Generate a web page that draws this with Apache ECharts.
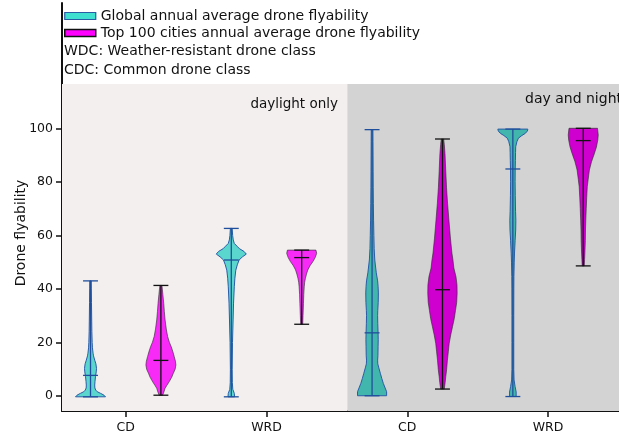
<!DOCTYPE html>
<html><head><meta charset="utf-8">
<script src="https://cdn.jsdelivr.net/npm/echarts@6/dist/echarts.min.js"></script>
<style>html,body{margin:0;padding:0;background:#fff}#c{width:619px;height:437px}</style>
</head><body><div id="c"></div>
<script>
// ---------------- data ----------------
const categories = ['CD', 'WRD', 'CD', 'WRD'];
const panelLabels = ['daylight only', 'day and night'];
const yTicks = [0, 20, 40, 60, 80, 100];
const seriesNames = ['Global annual average drone flyability', 'Top 100 cities annual average drone flyability'];
const classNotes = ['WDC: Weather-resistant drone class', 'CDC: Common drone class'];
const yAxisTitle = 'Drone flyability';

const globalMin = [-0.3, -0.3, 0.1, -0.2];
const globalMax = [43, 62.6, 99.5, 99.7];
const globalMean = [7.7, 50.8, 23.6, 84.8];
const top100Min = [0.3, 26.8, 2.6, 48.6];
const top100Max = [41.3, 54.5, 96, 100];
const top100Mean = [13.3, 51.7, 39.7, 95.4];

// density profiles: [value, relative density (max = 1)]
const globalCDDay = [[-0.3,1.0],[0.3,0.9],[1,0.67],[1.6,0.45],[2.2,0.35],[3,0.29],[4.1,0.28],[5.5,0.3],[7.2,0.33],[9,0.38],[10.3,0.4],[12,0.36],[13.4,0.28],[15,0.2],[16,0.17],[18,0.13],[20,0.11],[24,0.09],[28,0.08],[35,0.065],[40,0.055],[43,0.05]];
const globalWRDDay = [[-0.3,0.22],[1,0.2],[2.5,0.1],[5,0.07],[10,0.06],[20,0.08],[28.4,0.12],[34.7,0.15],[40.8,0.2],[44,0.24],[47,0.3],[49,0.4],[50.8,0.52],[52,0.75],[53,1.0],[54,0.85],[55,0.55],[55.8,0.41],[57,0.2],[58.3,0.13],[60,0.09],[62.6,0.06]];
const globalCDNight = [[0.1,0.97],[1.6,0.97],[3,0.87],[4.7,0.75],[6.5,0.65],[8.5,0.55],[10.5,0.45],[12,0.38],[13.4,0.37],[15,0.39],[18.4,0.4],[21,0.41],[23.6,0.4],[27,0.38],[30,0.37],[32,0.38],[35,0.41],[38.5,0.42],[41,0.4],[43,0.37],[46,0.28],[50.8,0.18],[55,0.14],[60,0.12],[65.7,0.1],[72,0.085],[78,0.075],[84,0.07],[90,0.065],[95,0.06],[99.5,0.055]];
const globalWRDNight = [[-0.2,0.22],[1.5,0.22],[3.5,0.15],[6,0.08],[10,0.06],[20,0.06],[30,0.06],[40,0.065],[44.6,0.07],[50,0.09],[53.4,0.11],[58,0.15],[62,0.19],[65.7,0.2],[69,0.18],[75,0.16],[80,0.15],[84.4,0.155],[88,0.17],[91,0.18],[93.1,0.19],[95,0.27],[96.3,0.37],[97.3,0.6],[98.1,0.83],[99,0.97],[99.7,1.0]];
const top100CDDay = [[0.3,0.12],[1.5,0.2],[2.9,0.28],[4,0.4],[5.3,0.55],[7,0.72],[8.5,0.83],[10,0.95],[11.6,1.0],[13,0.97],[14.7,0.89],[16.5,0.8],[18.4,0.69],[20,0.57],[22.2,0.45],[25,0.36],[28.4,0.28],[31.5,0.23],[34.6,0.19],[38,0.13],[41.3,0.07]];
const top100WRDDay = [[26.8,0.07],[30,0.09],[34.6,0.12],[38,0.14],[40.8,0.17],[42.5,0.2],[44,0.25],[45.5,0.32],[47.1,0.41],[48.7,0.56],[50.2,0.75],[51.7,0.9],[53.3,1.0],[54.5,0.95]];
const top100CDNight = [[2.6,0.12],[3,0.13],[5,0.18],[7.2,0.22],[10,0.28],[13.4,0.33],[16.5,0.39],[19.7,0.45],[22.8,0.55],[25.9,0.67],[29,0.79],[32,0.87],[35,0.95],[38.4,0.98],[41.5,0.97],[44.6,0.9],[47.8,0.76],[50.8,0.7],[53.4,0.63],[59,0.53],[65.7,0.43],[72,0.34],[78,0.27],[84,0.22],[90.6,0.17],[94,0.12],[96,0.08]];
const top100WRDNight = [[48.6,0.07],[51,0.09],[53.4,0.11],[58,0.14],[62,0.15],[65.7,0.17],[70,0.2],[74,0.23],[78.2,0.27],[81,0.33],[84.4,0.41],[87.5,0.55],[90.7,0.75],[93,0.88],[95.6,0.97],[97.5,1.0],[100,0.95]];

const globalShapes = [globalCDDay, globalWRDDay, globalCDNight, globalWRDNight];
const top100Shapes = [top100CDDay, top100WRDDay, top100CDNight, top100WRDNight];

// ---------------- layout / style ----------------
const X_MIN = -0.4525, X_MAX = 3.504, SPLIT = 1.574;
const Y_MIN = -5.6, Y_MAX = 146.8, PANEL_TOP = 116.5;
const HALF = 0.1065, CAP = 0.053, OFFSET = 0.25;

const globalStyle = { fill: ['#5ad6cf', '#40b6ac'], edge: '#2a5ca6', line: '#1f4f9c' };
const top100Style = { fill: ['#f72af7', '#cf00cf'], edge: 'rgba(40,40,40,0.6)', line: '#111111' };

function violinRenderer(shapes, offset, st) {
  return function (params, api) {
    const i = params.dataIndex;
    const pos = api.value(0) + offset;
    const vmin = api.value(1), vmax = api.value(2), vmean = api.value(3);
    const prof = shapes[i];
    const right = prof.map(p => api.coord([pos + p[1] * HALF, p[0]]));
    const left = prof.slice().reverse().map(p => api.coord([pos - p[1] * HALF, p[0]]));
    const panel = pos < SPLIT ? 0 : 1;
    const x = api.coord([pos, 0])[0];
    const yMin = api.coord([pos, vmin])[1];
    const yMax = api.coord([pos, vmax])[1];
    const yMean = api.coord([pos, vmean])[1];
    const cap = api.size([CAP, 0])[0];
    const ls = { stroke: st.line, lineWidth: 1.3 };
    return {
      type: 'group',
      children: [
        { type: 'polygon', shape: { points: right.concat(left) },
          style: { fill: st.fill[panel], stroke: st.edge, lineWidth: 1, lineJoin: 'round' } },
        { type: 'line', shape: { x1: x, y1: yMin, x2: x, y2: yMax }, style: ls },
        { type: 'line', shape: { x1: x - cap, y1: yMin, x2: x + cap, y2: yMin }, style: ls },
        { type: 'line', shape: { x1: x - cap, y1: yMax, x2: x + cap, y2: yMax }, style: ls },
        { type: 'line', shape: { x1: x - cap, y1: yMean, x2: x + cap, y2: yMean }, style: ls }
      ]
    };
  };
}

const chart = echarts.init(document.getElementById('c'), null, { renderer: 'canvas' });
const FONT = 'DejaVu Sans';
chart.setOption({
  animation: false,
  textStyle: { fontFamily: FONT },
  grid: { left: 62, right: 0, top: 3, bottom: 26 },
  title: {
    text: classNotes.join('\n'),
    left: 64, top: 42, padding: 0,
    textStyle: { fontFamily: FONT, fontSize: 14, fontWeight: 'normal', color: '#111', lineHeight: 19 }
  },
  legend: {
    orient: 'vertical', left: 64, top: 9, itemGap: 3, padding: 0,
    itemWidth: 31, itemHeight: 7, icon: 'rect',
    textStyle: { fontFamily: FONT, fontSize: 14, color: '#111' },
    data: [
      { name: seriesNames[0], itemStyle: { color: '#40e0d0', borderColor: '#2a5ca6', borderWidth: 1.2 } },
      { name: seriesNames[1], itemStyle: { color: '#ff00ff', borderColor: '#111', borderWidth: 1.5 } }
    ],
    selectedMode: false
  },
  xAxis: {
    type: 'value', min: X_MIN, max: X_MAX,
    axisLine: { show: true, onZero: false, lineStyle: { color: '#111', width: 2 } },
    axisTick: { show: true, customValues: categories.map((c, i) => i), length: 6, lineStyle: { color: '#111', width: 1.5 } },
    axisLabel: { customValues: categories.map((c, i) => i), formatter: v => categories[Math.round(v)],
      fontFamily: FONT, fontSize: 12.5, color: '#111', margin: 10 },
    splitLine: { show: false }
  },
  yAxis: {
    type: 'value', min: Y_MIN, max: Y_MAX,
    axisLine: { show: true, onZero: false, lineStyle: { color: '#111', width: 2 } },
    axisTick: { show: true, customValues: yTicks, length: 6, lineStyle: { color: '#111', width: 1.5 } },
    axisLabel: { customValues: yTicks, fontFamily: FONT, fontSize: 12.5, color: '#111', margin: 9 },
    splitLine: { show: false }
  },
  graphic: [
    { type: 'text', x: 21.5, y: 233, rotation: Math.PI / 2,
      style: { text: yAxisTitle, fontFamily: FONT, fontSize: 14, fill: '#111', align: 'center', verticalAlign: 'middle' } },
    { type: 'text', x: 338, y: 104, z: 10,
      style: { text: panelLabels[0], fontFamily: FONT, fontSize: 13.5, fill: '#111', align: 'right', verticalAlign: 'middle' } },
    { type: 'text', x: 525, y: 99.5, z: 10,
      style: { text: panelLabels[1], fontFamily: FONT, fontSize: 14, fill: '#111', align: 'left', verticalAlign: 'middle' } }
  ],
  series: [
    {
      type: 'line', name: 'panels', data: [], z: 0, silent: true,
      markArea: {
        silent: true,
        data: [
          [{ xAxis: X_MIN, yAxis: Y_MIN, itemStyle: { color: '#f2efee' } }, { xAxis: SPLIT, yAxis: PANEL_TOP }],
          [{ xAxis: SPLIT, yAxis: Y_MIN, itemStyle: { color: '#d3d3d3' } }, { xAxis: X_MAX, yAxis: PANEL_TOP }]
        ]
      }
    },
    {
      type: 'custom', name: seriesNames[0], z: 2,
      itemStyle: { color: '#40e0d0' },
      encode: { x: 0, y: [1, 2] },
      data: categories.map((c, i) => [i, globalMin[i], globalMax[i], globalMean[i]]),
      renderItem: violinRenderer(globalShapes, -OFFSET, globalStyle)
    },
    {
      type: 'custom', name: seriesNames[1], z: 2,
      itemStyle: { color: '#ff00ff' },
      encode: { x: 0, y: [1, 2] },
      data: categories.map((c, i) => [i, top100Min[i], top100Max[i], top100Mean[i]]),
      renderItem: violinRenderer(top100Shapes, OFFSET, top100Style)
    }
  ]
});
</script></body></html>
